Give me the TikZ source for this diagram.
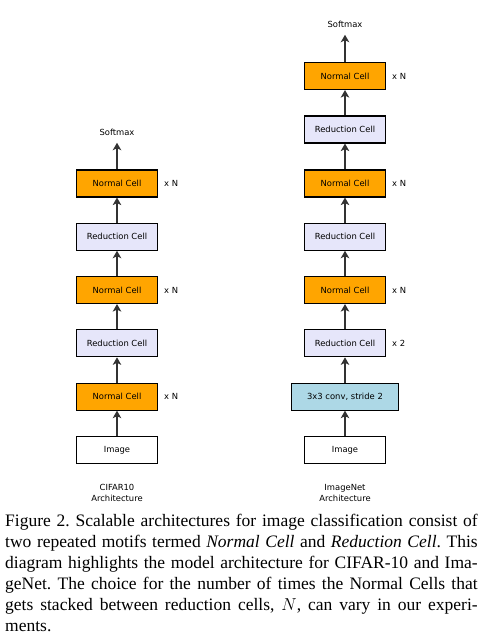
\documentclass[tikz,border=0pt]{standalone}
\usepackage{fontspec}
\setmainfont{Liberation Serif}
\newfontfamily\diagfont{DejaVu Sans}
\usetikzlibrary{arrows.meta}
\definecolor{normalc}{HTML}{FFA500}
\definecolor{reducc}{HTML}{E6E6FA}
\definecolor{convc}{HTML}{ADD8E6}
\frenchspacing
\begin{document}
\begin{tikzpicture}[x=1pt,y=-1pt,
  every node/.style={font=\diagfont\fontsize{8.4}{11}\selectfont},
  cell/.style={draw=black, line width=1.1pt, minimum width=81pt, minimum height=27pt, inner sep=0pt},
  normalcell/.style={cell, fill=normalc},
  reduccell/.style={cell, fill=reducc},
  convcell/.style={cell, fill=convc, minimum width=107pt},
  imagecell/.style={cell, fill=white},
  lbl/.style={anchor=west, inner sep=0pt},
  soft/.style={inner sep=0pt, outer ysep=7.5pt},
  conn/.style={draw=black!80, line width=1.7pt, -{Stealth[length=7.5pt,width=8.5pt,inset=2pt]}},
  arch/.style={align=center, inner sep=0pt}
]
\useasboundingbox (0,0) rectangle (485,638);
\fill[white] (0,0) rectangle (485,638);

% Left column (CIFAR10)
\node[soft] (ls) at (117,132) {Softmax};
\node[normalcell] (ln3) at (117,183.5) {Normal Cell};
\node[reduccell] (lr2) at (117,236.7) {Reduction Cell};
\node[normalcell] (ln2) at (117,290) {Normal Cell};
\node[reduccell] (lr1) at (117,343.3) {Reduction Cell};
\node[normalcell] (ln1) at (117,396.6) {Normal Cell};
\node[imagecell] (li) at (117,449.9) {Image};
\node[arch] (la) at (117,493) {CIFAR10\\Architecture};
\node[lbl] (lx3) at (164,183.5) {x N};
\node[lbl] (lx2) at (164,290) {x N};
\node[lbl] (lx1) at (164,396.6) {x N};
\draw[conn] (li) -- (ln1);
\draw[conn] (ln1) -- (lr1);
\draw[conn] (lr1) -- (ln2);
\draw[conn] (ln2) -- (lr2);
\draw[conn] (lr2) -- (ln3);
\draw[conn] (ln3) -- (ls);

% Right column (ImageNet)
\node[soft] (rs) at (345,24) {Softmax};
\node[normalcell] (rn3) at (345,76) {Normal Cell};
\node[reduccell] (rr3) at (345,129.5) {Reduction Cell};
\node[normalcell] (rn2) at (345,183.5) {Normal Cell};
\node[reduccell] (rr2) at (345,236.7) {Reduction Cell};
\node[normalcell] (rn1) at (345,290) {Normal Cell};
\node[reduccell] (rr1) at (345,343.3) {Reduction Cell};
\node[convcell] (rc) at (345,396.6) {3x3 conv, stride 2};
\node[imagecell] (ri) at (345,449.9) {Image};
\node[arch] (ra) at (345,493) {ImageNet\\Architecture};
\node[lbl] (rx3) at (392,76) {x N};
\node[lbl] (rx2) at (392,183.5) {x N};
\node[lbl] (rx1) at (392,290) {x N};
\node[lbl] (rx0) at (392,343.3) {x 2};
\draw[conn] (ri) -- (rc);
\draw[conn] (rc) -- (rr1);
\draw[conn] (rr1) -- (rn1);
\draw[conn] (rn1) -- (rr2);
\draw[conn] (rr2) -- (rn2);
\draw[conn] (rn2) -- (rr3);
\draw[conn] (rr3) -- (rn3);
\draw[conn] (rn3) -- (rs);

% Caption
\node[anchor=north west, inner sep=0pt, text width=472.5pt, align=justify,
  font=\rmfamily\fontsize{17.5}{20.9}\selectfont] (cap) at (5,514)
  {Figure 2. Scalable architectures for image classification consist of\linebreak
   two repeated motifs termed \textit{Normal Cell} and \textit{Reduction Cell}. This\linebreak
   diagram highlights the model architecture for CIFAR-10 and Ima-\linebreak
   geNet. The choice for the number of times the Normal Cells that\linebreak
   gets stacked between reduction cells, $N$, can vary in our experi-\linebreak
   ments.};
\end{tikzpicture}
\end{document}
